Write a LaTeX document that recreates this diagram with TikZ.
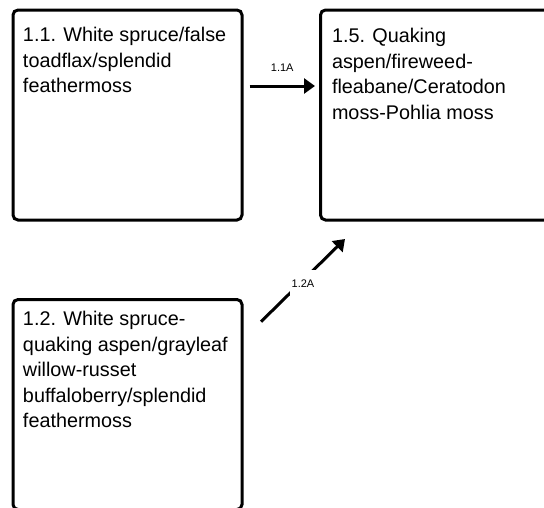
\documentclass[tikz,border=0pt]{standalone}
\usepackage{fontspec}
\setmainfont{Liberation Sans}
\usetikzlibrary{arrows.meta,positioning,calc}
\newcommand{\standtext}[2]{\parbox[t][210pt][t]{209pt}{\vspace*{#1}\raggedright#2}}

\begin{document}
\begin{tikzpicture}[
  x=1pt, y=-1pt,
  every node/.style={font=\fontsize{19.8}{25.5}\selectfont},
  stand/.style={draw, line width=3pt, rounded corners=5pt, anchor=north west,
    inner xsep=10pt, inner ysep=0pt},
  transition/.style={-{Triangle[length=11pt,width=15pt]}, line width=3pt},
  code/.style={font=\fontsize{11}{13}\selectfont, fill=white, inner xsep=2pt, inner ysep=0pt}
]
\clip (0,0) rectangle (544,507);
\node[stand] (s11) at (11.5,8.5)
  {\standtext{17.5pt}{1.1. White spruce/false\\toadflax/splendid\\feathermoss}};
\node[stand, inner xsep=11.5pt] (s15) at (319,8.5)
  {\standtext{18.5pt}{1.5. Quaking\\aspen/fireweed-\\fleabane/Ceratodon\\moss-Pohlia moss}};
\node[stand] (s12) at (11.5,298)
  {\standtext{11.7pt}{1.2. White spruce-\\quaking aspen/grayleaf\\willow-russet\\buffaloberry/splendid\\feathermoss}};
\draw[transition] ([shift={(6,77.5)}]s11.north east) -- ([shift={(-4,77.5)}]s15.north west)
  node[midway, above=13pt, code] {1.1A};
\draw[transition] ([shift={(17.5,23.7)}]s12.north east) -- ([shift={(26,17.5)}]s15.south west)
  node[midway, yshift=-3pt, code, minimum height=27pt] {1.2A};
\end{tikzpicture}
\end{document}
